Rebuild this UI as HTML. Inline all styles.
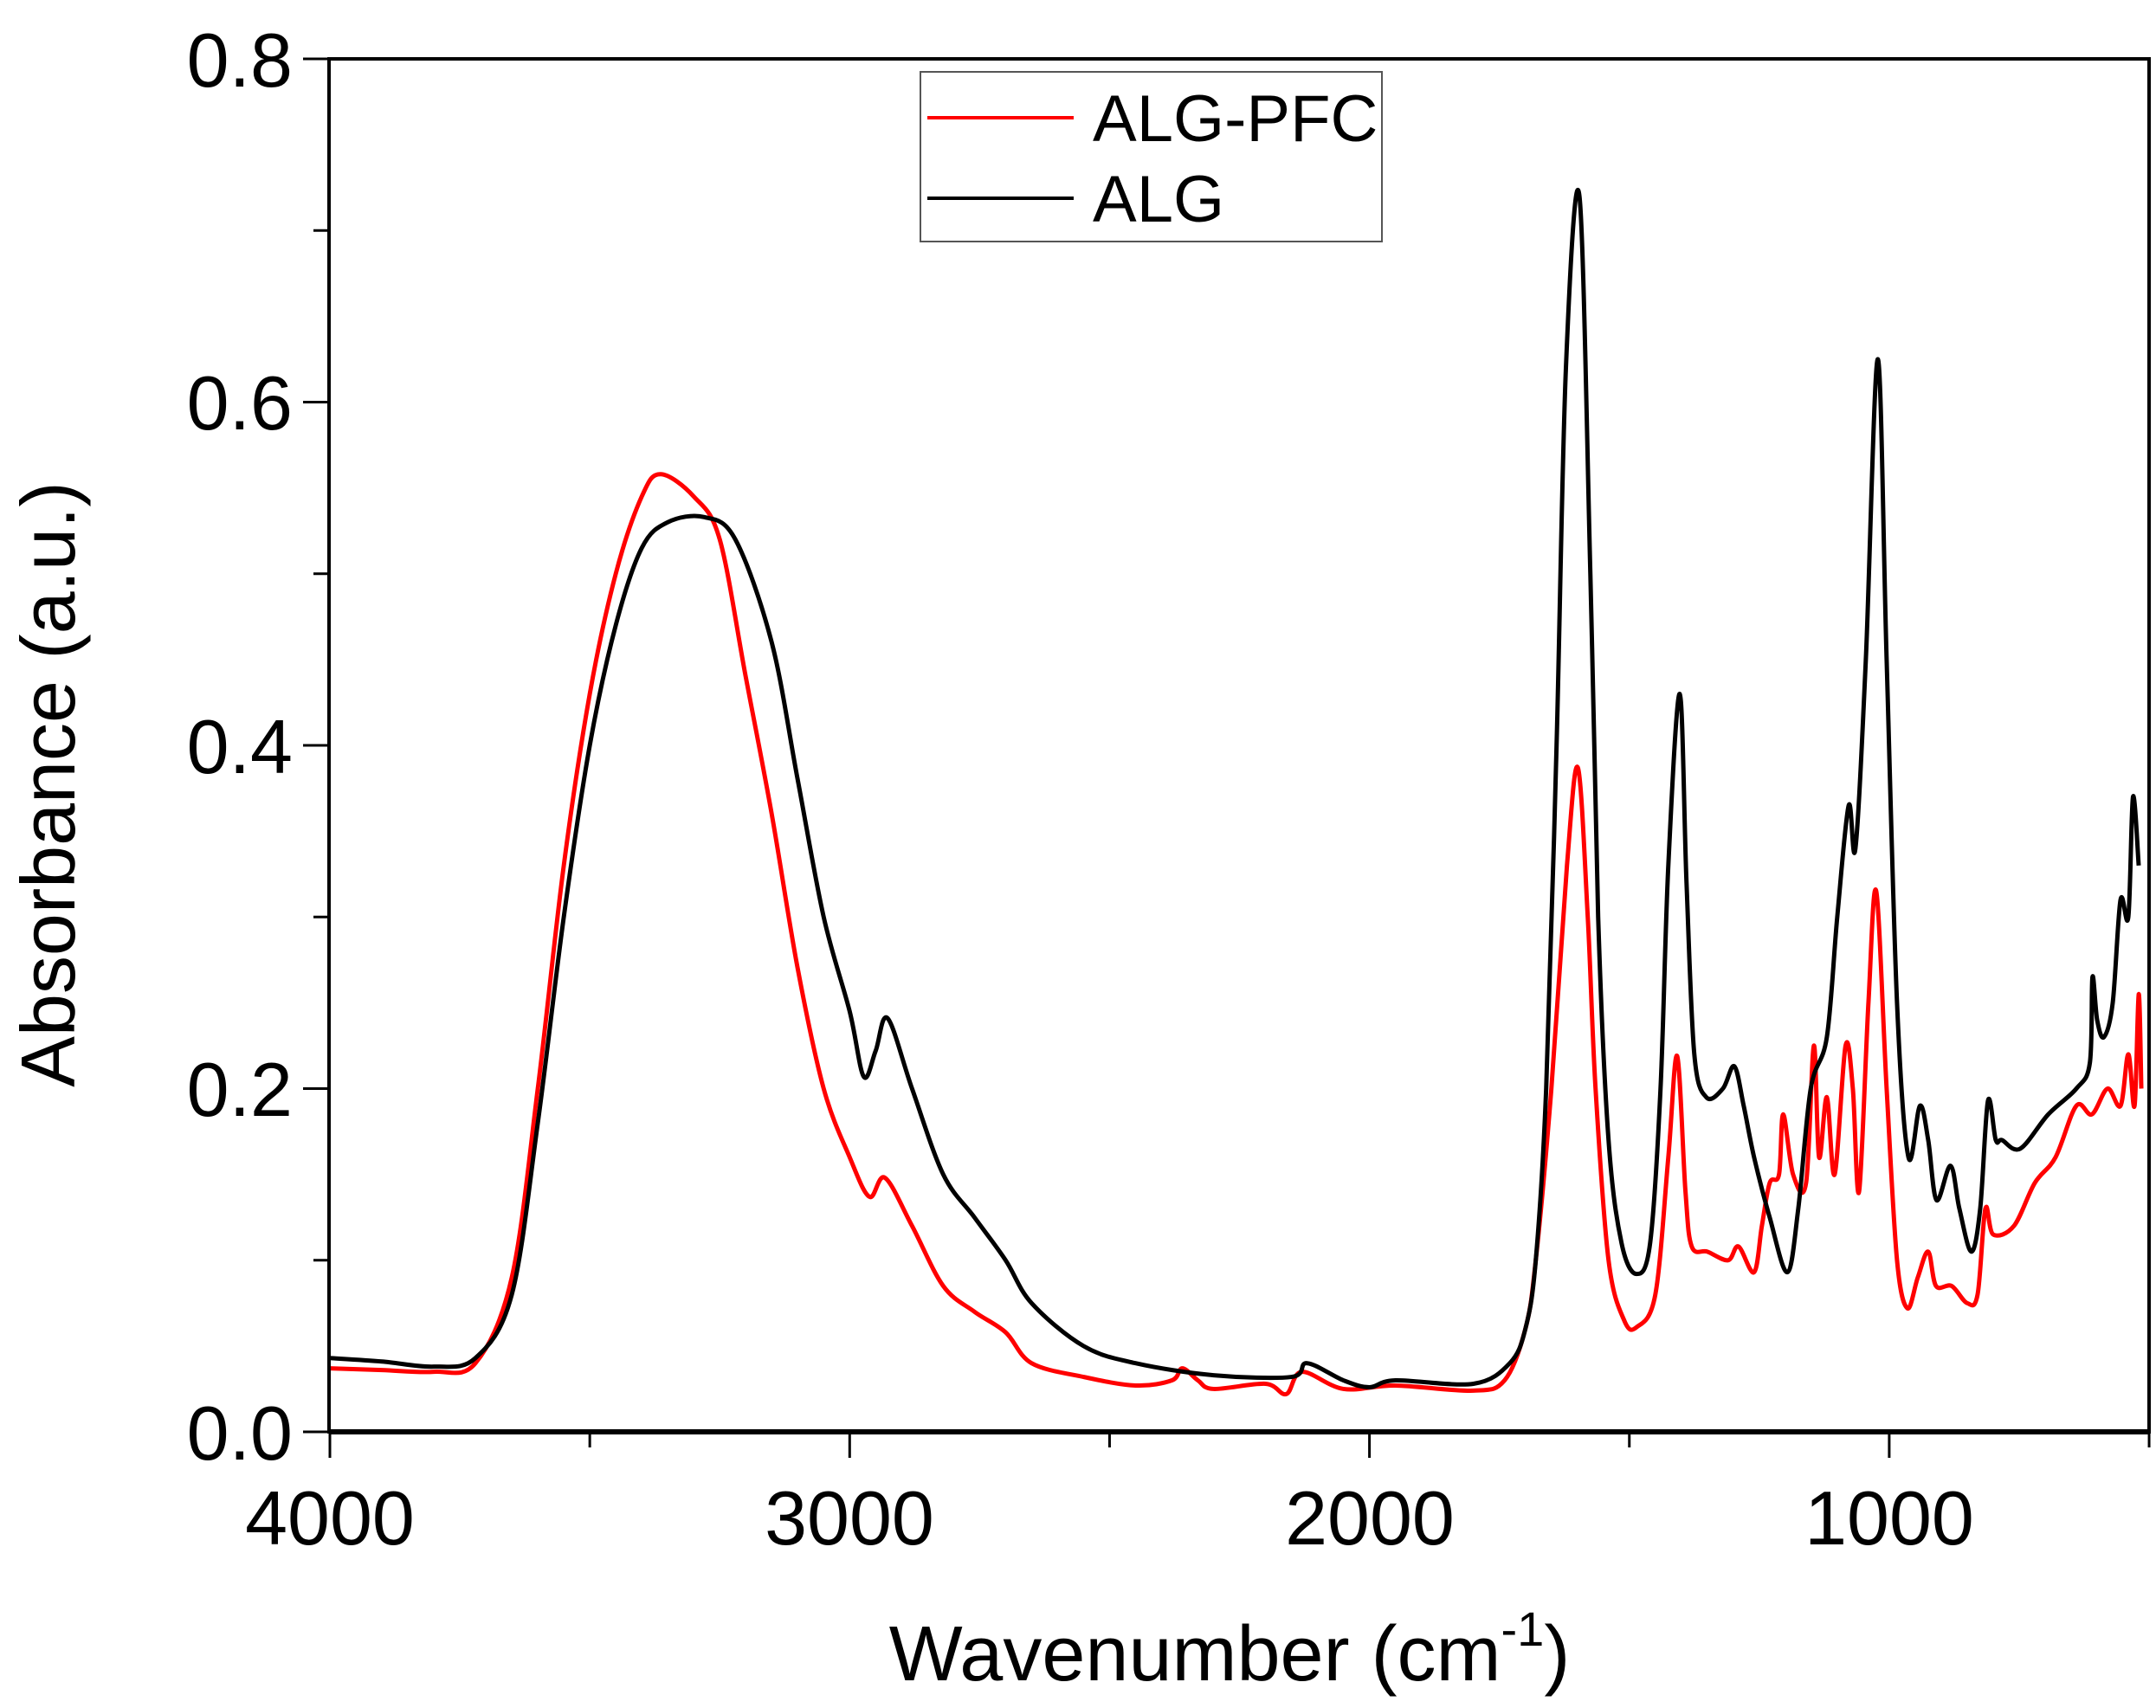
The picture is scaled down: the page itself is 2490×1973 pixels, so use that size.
<!DOCTYPE html>
<html><head><meta charset="utf-8"><style>
html,body{margin:0;padding:0;background:#fff;}
svg{display:block;}
text{font-family:"Liberation Sans",Arial,sans-serif;fill:#000;}
</style></head><body>
<svg id="s" width="2490" height="1973" viewBox="0 0 2490 1973" xmlns="http://www.w3.org/2000/svg">
<g id="ticks" stroke="#000" stroke-width="3"></g>
<path id="red" fill="none" stroke="#ff0000" stroke-width="5" stroke-linejoin="round"/>
<path id="blk" fill="none" stroke="#000" stroke-width="5" stroke-linejoin="round"/>
<rect x="380" y="68" width="2102" height="1586" fill="none" stroke="#000" stroke-width="4"/>
<line x1="380" y1="1654" x2="2482" y2="1654" stroke="#000" stroke-width="6"/>
<g font-size="88" text-anchor="end">
<text x="338" y="1686">0.0</text>
<text x="338" y="1289">0.2</text>
<text x="338" y="893">0.4</text>
<text x="338" y="496">0.6</text>
<text x="338" y="100">0.8</text>
</g>
<g font-size="88" text-anchor="middle">
<text x="381" y="1784">4000</text>
<text x="981" y="1784">3000</text>
<text x="1582" y="1784">2000</text>
<text x="2182" y="1784">1000</text>
</g>
<text x="1420" y="1941" font-size="90" text-anchor="middle">Wavenumber (cm<tspan font-size="56" dy="-40">-1</tspan><tspan dy="40">)</tspan></text>
<text transform="translate(86,906) rotate(-90)" font-size="88" text-anchor="middle">Absorbance (a.u.)</text>
<rect x="1063" y="83" width="533" height="196" fill="#fff" stroke="#555" stroke-width="2"/>
<line x1="1071" y1="136" x2="1240" y2="136" stroke="#f00" stroke-width="4"/>
<line x1="1071" y1="229" x2="1240" y2="229" stroke="#000" stroke-width="4"/>
<text x="1262" y="163" font-size="76">ALG-PFC</text>
<text x="1262" y="256" font-size="76">ALG</text>
</svg>
<script>
var X=function(w){return 381+(4000-w)*0.6003;}, Y=function(a){return 1654-a*1982.5;};
var t=document.getElementById('ticks'),h='';
for(var w=4000;w>=500;w-=500){var maj=(w%1000==0);h+='<line x1="'+X(w)+'" y1="1654" x2="'+X(w)+'" y2="'+(1654+(maj?30:18))+'"/>';}
for(var i=0;i<=8;i++){var a=i/10,maj=(i%2==0);h+='<line x1="380" y1="'+Y(a)+'" x2="'+(380-(maj?30:18))+'" y2="'+Y(a)+'"/>';}
t.innerHTML=h;
var blk=[[4000,.043],[3900,.041],[3800,.038],[3720,.043],[3650,.08],[3600,.18],[3550,.3],[3500,.4],[3450,.47],[3400,.515],[3350,.53],[3280,.533],[3220,.52],[3150,.46],[3100,.38],[3050,.3],[3000,.245],[2973,.207],[2950,.222],[2927,.241],[2880,.2],[2820,.15],[2760,.125],[2700,.1],[2650,.075],[2550,.05],[2450,.04],[2300,.033],[2150,.032],[2120,.04],[2050,.03],[2000,.026],[1950,.03],[1800,.028],[1730,.04],[1700,.06],[1680,.1],[1660,.2],[1640,.4],[1622,.62],[1596,.72],[1575,.5],[1560,.3],[1540,.17],[1515,.11],[1486,.092],[1460,.11],[1440,.2],[1425,.33],[1403,.43],[1390,.32],[1375,.22],[1352,.195],[1320,.2],[1298,.213],[1280,.19],[1260,.16],[1230,.125],[1196,.093],[1175,.13],[1151,.2],[1120,.23],[1100,.3],[1078,.365],[1065,.34],[1045,.45],[1022,.625],[1005,.45],[985,.25],[963,.16],[941,.19],[925,.17],[909,.135],[882,.155],[865,.13],[842,.105],[825,.13],[810,.193],[795,.17],[783,.17],[748,.165],[694,.185],[640,.2],[614,.215],[609,.265],[600,.24],[587,.23],[570,.25],[555,.31],[540,.3],[531,.37],[520,.33]];
var red=[[4000,.037],[3900,.036],[3800,.035],[3720,.04],[3650,.09],[3600,.2],[3550,.33],[3500,.43],[3450,.5],[3400,.545],[3364,.558],[3300,.545],[3250,.52],[3200,.44],[3150,.36],[3100,.27],[3050,.2],[3000,.16],[2962,.137],[2932,.148],[2880,.12],[2820,.085],[2760,.07],[2700,.058],[2650,.04],[2550,.032],[2450,.027],[2380,.03],[2360,.037],[2330,.03],[2300,.025],[2200,.028],[2160,.022],[2130,.035],[2050,.025],[1950,.027],[1800,.024],[1740,.03],[1700,.06],[1680,.1],[1650,.2],[1620,.33],[1599,.387],[1580,.3],[1565,.2],[1540,.1],[1510,.065],[1486,.061],[1450,.08],[1425,.16],[1408,.219],[1392,.14],[1380,.108],[1350,.105],[1310,.1],[1290,.108],[1260,.093],[1245,.12],[1230,.145],[1212,.15],[1204,.185],[1185,.15],[1160,.145],[1145,.225],[1135,.16],[1120,.195],[1105,.15],[1084,.225],[1070,.2],[1058,.14],[1040,.25],[1025,.315],[1005,.2],[985,.1],[965,.072],[945,.09],[925,.105],[910,.085],[880,.085],[850,.075],[830,.08],[815,.13],[800,.115],[760,.12],[720,.145],[680,.16],[640,.19],[610,.185],[580,.2],[555,.19],[540,.22],[528,.19],[520,.255],[515,.2]];
function path(d){var p=d.map(function(q){return [X(q[0]),Y(q[1])];}),s='M'+p[0][0]+','+p[0][1];
for(var i=0;i<p.length-1;i++){var a=p[i-1]||p[i],b=p[i],c=p[i+1],e=p[i+2]||c;
s+=' C'+(b[0]+(c[0]-a[0])/6)+','+(b[1]+(c[1]-a[1])/6)+' '+(c[0]-(e[0]-b[0])/6)+','+(c[1]-(e[1]-b[1])/6)+' '+c[0]+','+c[1];}return s;}
document.getElementById('red').setAttribute('d',path(red));
document.getElementById('blk').setAttribute('d',path(blk));
</script>
</body></html>
